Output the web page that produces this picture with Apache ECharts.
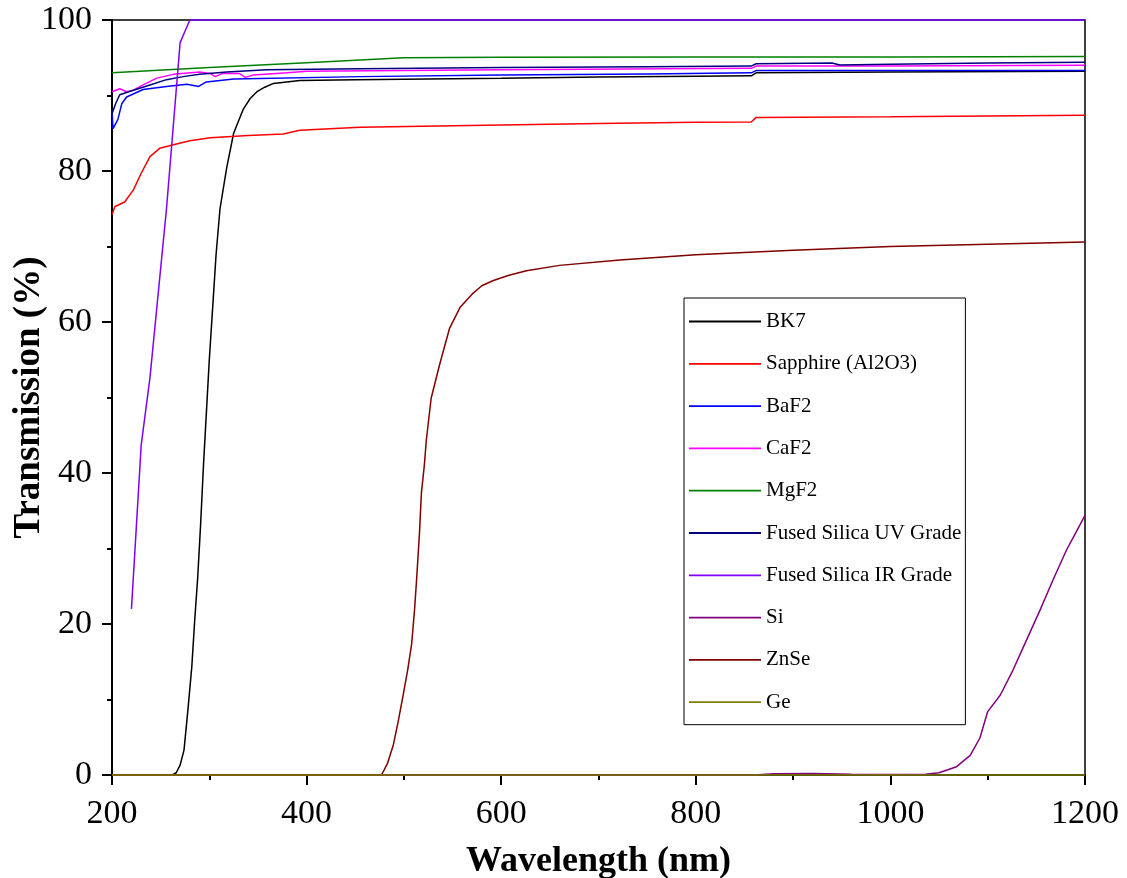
<!DOCTYPE html>
<html>
<head>
<meta charset="utf-8">
<script src="https://cdn.jsdelivr.net/npm/echarts@6/dist/echarts.min.js"></script>
<style>
  html, body { margin: 0; padding: 0; background: #fff; }
  #chart { width: 1127px; height: 878px; }
</style>
</head>
<body>
<div id="chart"></div>
<script>
// transmission curves, [wavelength nm, T %]
var bk7 = [[200,0],[262,0],[266,0.3],[270,1.3],[274,3.3],[278,8.6],[282,14.3],[285,20.5],[288,26],[291,33],[294,41],[297,48],[300,55],[304,63],[307,69],[311,75],[318,80.5],[325,85],[335,88.2],[342,89.6],[349,90.5],[357,91.1],[366,91.6],[393,92.0],[450,92.1],[600,92.3],[700,92.45],[800,92.55],[857,92.6],[862,93.0],[1000,93.1],[1200,93.2]];
var sapphire = [[200,74.2],[203,75.3],[213,75.9],[222,77.5],[230,79.7],[239,81.9],[249,83.0],[261,83.4],[280,84.0],[301,84.4],[340,84.7],[376,84.9],[393,85.4],[455,85.8],[600,86.1],[700,86.3],[800,86.45],[857,86.5],[862,87.1],[1000,87.2],[1200,87.4]];
var baf2 = [[200,88.1],[201,85.6],[206,86.8],[210,88.9],[215,89.8],[232,90.8],[256,91.2],[277,91.5],[289,91.2],[297,91.8],[325,92.2],[455,92.5],[600,92.7],[750,92.85],[857,93.0],[862,93.3],[1000,93.3],[1200,93.3]];
var caf2 = [[200,90.5],[208,90.9],[215,90.5],[222,90.7],[232,91.4],[246,92.3],[263,92.8],[290,93.1],[301,92.9],[306,92.5],[313,92.9],[331,92.9],[337,92.4],[345,92.7],[380,93.0],[400,93.2],[600,93.4],[857,93.6],[862,93.9],[1000,93.9],[1200,94.0]];
var mgf2 = [[200,93.0],[300,93.7],[400,94.35],[500,95.0],[600,95.05],[800,95.1],[1000,95.1],[1200,95.15]];
var fsUV = [[200,87.6],[204,89.0],[208,90.1],[222,90.7],[239,91.4],[256,92.1],[273,92.5],[290,92.8],[318,93.1],[359,93.4],[455,93.55],[600,93.7],[750,93.8],[857,93.9],[862,94.2],[940,94.3],[948,94.05],[1000,94.15],[1100,94.3],[1200,94.4]];
var fsIR = [[220,22],[230,43.7],[239,52.6],[256,75],[270,97],[280,100],[1200,100]];
var si = [[200,0],[860,0],[880,0.15],[920,0.2],[960,0.1],[1000,0.05],[1036,0.1],[1050,0.3],[1068,1.1],[1082,2.6],[1092,4.9],[1100,8.4],[1113,10.6],[1126,13.9],[1140,17.9],[1154,21.9],[1167,25.8],[1181,29.8],[1191,32.2],[1200,34.4]];
var znse = [[200,0],[477,0],[483,1.5],[489,3.9],[494,7],[499,10.4],[504,14],[508,17.4],[511,22],[513,25.8],[516,32],[518,37.4],[521,41],[523,44.3],[528,49.9],[537,54.5],[547,59.2],[558,62],[571,63.8],[580,64.8],[592,65.5],[608,66.2],[626,66.8],[660,67.5],[722,68.2],[800,68.9],[900,69.5],[1000,70.0],[1100,70.3],[1200,70.6]];
var ge = [[200,0],[1200,0]];

var names = ['BK7', 'Sapphire (Al2O3)', 'BaF2', 'CaF2', 'MgF2', 'Fused Silica UV Grade', 'Fused Silica IR Grade', 'Si', 'ZnSe', 'Ge'];
var curves = [bk7, sapphire, baf2, caf2, mgf2, fsUV, fsIR, si, znse, ge];
var colors = ['#000000', '#ff0000', '#0000ff', '#ff00ff', '#008000', '#000080', '#8000ff', '#800080', '#800000', '#808000'];

var font = 'Liberation Serif, Times New Roman, serif';
var chart = echarts.init(document.getElementById('chart'));

var series = [];
for (var i = 0; i < names.length; i++) {
    series.push({
        name: names[i],
        type: 'line',
        data: curves[i],
        symbol: 'none',
        clip: false,
        lineStyle: { color: colors[i], width: 1.5 },
        itemStyle: { color: colors[i] }
    });
}

chart.setOption({
    animation: false,
    color: colors,
    grid: {
        left: 112, right: 42, top: 20, bottom: 103,
        containLabel: false, outerBoundsMode: 'none',
        show: true, borderColor: '#000', borderWidth: 1.5
    },
    legend: {
        orient: 'vertical',
        left: 684,
        top: 298,
        padding: [13, 4, 12, 5],
        itemGap: 21.3,
        itemWidth: 72,
        itemHeight: 21,
        icon: 'path://M0,0H72V1.8H0Z',
        borderColor: '#000',
        borderWidth: 1,
        backgroundColor: '#fff',
        textStyle: { fontFamily: font, fontSize: 21, color: '#000' },
        data: names
    },
    xAxis: {
        type: 'value',
        min: 200,
        max: 1200,
        interval: 200,
        name: 'Wavelength (nm)',
        nameLocation: 'middle',
        nameGap: 69,
        nameMoveOverlap: false,
        nameTextStyle: { fontFamily: font, fontSize: 36, fontWeight: 'bold', color: '#000' },
        axisLine: { lineStyle: { color: '#000', width: 2 } },
        axisTick: { show: true, inside: false, length: 10, lineStyle: { color: '#000', width: 2 } },
        minorTick: { show: true, splitNumber: 2, length: 5, lineStyle: { color: '#000', width: 2 } },
        splitLine: { show: false },
        axisLabel: { fontFamily: font, fontSize: 34, color: '#000', margin: 22, formatter: function (v) { return String(v); } }
    },
    yAxis: {
        type: 'value',
        min: 0,
        max: 100,
        interval: 20,
        name: 'Transmission (%)',
        nameLocation: 'middle',
        nameRotate: 90,
        nameGap: 64,
        nameMoveOverlap: false,
        nameTextStyle: { fontFamily: font, fontSize: 37, fontWeight: 'bold', color: '#000' },
        axisLine: { show: true, lineStyle: { color: '#000', width: 2 } },
        axisTick: { show: true, inside: false, length: 10, lineStyle: { color: '#000', width: 2 } },
        minorTick: { show: true, splitNumber: 2, length: 5, lineStyle: { color: '#000', width: 2 } },
        splitLine: { show: false },
        axisLabel: { fontFamily: font, fontSize: 34, color: '#000', margin: 20 }
    },
    series: series
});
</script>
</body>
</html>
